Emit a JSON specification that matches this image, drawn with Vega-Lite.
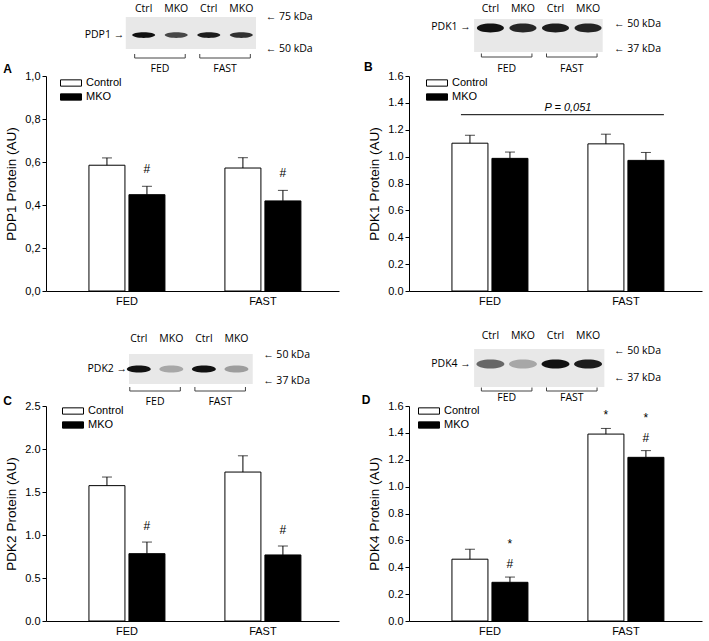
{
  "$schema": "https://vega.github.io/schema/vega-lite/v6.json",
  "background": "white",
  "padding": {"left": 3, "top": 2, "right": 2, "bottom": 2},
  "bounds": "flush",
  "columns": 2,
  "spacing": {"row": 4, "column": 70},
  "concat": [
    {
      "width": 293, "height": 70,
      "data": {"values": [
        {"lane": 1, "label": "Ctrl", "cond": "FED", "density": 1.0},
        {"lane": 2, "label": "MKO", "cond": "FED", "density": 0.75},
        {"lane": 3, "label": "Ctrl", "cond": "FAST", "density": 0.95},
        {"lane": 4, "label": "MKO", "cond": "FAST", "density": 0.85}
      ]},
      "layer": [
        {"data": {"values": [{}]}, "mark": {"type": "rect", "color": "#e8e8e8"},
         "encoding": {"x": {"datum": 0.45, "type": "quantitative", "scale": {"domain": [-2, 7], "nice": false, "zero": false}, "axis": null},
                      "x2": {"datum": 4.45},
                      "y": {"datum": 2.3, "type": "quantitative", "scale": {"domain": [0, 7], "nice": false, "zero": false}, "axis": null},
                      "y2": {"datum": 5.5}}},
        {"mark": {"type": "point", "filled": true, "color": "#111", "shape": "M-1,0A1,0.25,0,1,1,1,0A1,0.25,0,1,1,-1,0Z", "size": 529, "strokeWidth": 0},
         "encoding": {"x": {"field": "lane", "type": "quantitative"}, "y": {"datum": 3.7, "type": "quantitative"},
                      "opacity": {"field": "density", "type": "quantitative", "scale": {"domain": [0, 1], "range": [0, 1]}, "legend": null}}},
        {"mark": {"type": "text", "font": "Open Sans", "fontSize": 10.5, "baseline": "middle"},
         "encoding": {"x": {"field": "lane", "type": "quantitative"}, "y": {"datum": 6.3, "type": "quantitative"}, "text": {"field": "label"}}},
        {"mark": {"type": "rule", "color": "#444", "xOffset": -9, "x2Offset": 9},
         "encoding": {"x": {"aggregate": "min", "field": "lane", "type": "quantitative"}, "x2": {"aggregate": "max", "field": "lane"}, "y": {"datum": 1.4, "type": "quantitative"}, "detail": {"field": "cond", "type": "nominal"}}},
        {"mark": {"type": "rule", "color": "#444", "xOffset": -9},
         "encoding": {"x": {"aggregate": "min", "field": "lane", "type": "quantitative"}, "y": {"datum": 1.4, "type": "quantitative"}, "y2": {"datum": 1.8}, "detail": {"field": "cond", "type": "nominal"}}},
        {"mark": {"type": "rule", "color": "#444", "xOffset": 9},
         "encoding": {"x": {"aggregate": "max", "field": "lane", "type": "quantitative"}, "y": {"datum": 1.4, "type": "quantitative"}, "y2": {"datum": 1.8}, "detail": {"field": "cond", "type": "nominal"}}},
        {"mark": {"type": "text", "font": "Open Sans", "fontSize": 10.5, "baseline": "middle"},
         "encoding": {"x": {"aggregate": "mean", "field": "lane", "type": "quantitative"}, "y": {"datum": 0.3, "type": "quantitative"}, "text": {"field": "cond"}}},
        {"data": {"values": [{}]}, "mark": {"type": "text", "font": "Open Sans", "fontSize": 10.5, "align": "right", "baseline": "middle"},
         "encoding": {"x": {"datum": 0.4, "type": "quantitative"}, "y": {"datum": 3.7, "type": "quantitative"}, "text": {"value": "PDP1  →"}}},
        {"data": {"values": [{}]}, "mark": {"type": "text", "font": "Open Sans", "fontSize": 10.5, "align": "left", "baseline": "middle"},
         "encoding": {"x": {"datum": 4.75, "type": "quantitative"}, "y": {"datum": 5.5, "type": "quantitative"}, "text": {"value": "←  75 kDa"}}},
        {"data": {"values": [{}]}, "mark": {"type": "text", "font": "Open Sans", "fontSize": 10.5, "align": "left", "baseline": "middle"},
         "encoding": {"x": {"datum": 4.75, "type": "quantitative"}, "y": {"datum": 2.3, "type": "quantitative"}, "text": {"value": "←  50 kDa"}}},
        {"data": {"values": [{}]}, "mark": {"type": "text", "font": "Liberation Sans", "fontSize": 12, "fontWeight": "bold", "align": "center", "baseline": "middle"},
         "encoding": {"x": {"datum": -3.18, "type": "quantitative"}, "y": {"datum": 0.3, "type": "quantitative"}, "text": {"value": "A"}}}
      ]
    },
    {
      "width": 293, "height": 70,
      "data": {"values": [
        {"lane": 1, "label": "Ctrl", "cond": "FED", "density": 1.0},
        {"lane": 2, "label": "MKO", "cond": "FED", "density": 0.9},
        {"lane": 3, "label": "Ctrl", "cond": "FAST", "density": 0.95},
        {"lane": 4, "label": "MKO", "cond": "FAST", "density": 0.92}
      ]},
      "layer": [
        {"data": {"values": [{}]}, "mark": {"type": "rect", "color": "#e8e8e8"},
         "encoding": {"x": {"datum": 0.5, "type": "quantitative", "scale": {"domain": [-1.5, 7.5], "nice": false, "zero": false}, "axis": null},
                      "x2": {"datum": 4.45},
                      "y": {"datum": 2.0, "type": "quantitative", "scale": {"domain": [0, 7], "nice": false, "zero": false}, "axis": null},
                      "y2": {"datum": 5.3}}},
        {"mark": {"type": "point", "filled": true, "color": "#111", "shape": "M-1,0A1,0.33,0,1,1,1,0A1,0.33,0,1,1,-1,0Z", "size": 729, "strokeWidth": 0},
         "encoding": {"x": {"field": "lane", "type": "quantitative"}, "y": {"datum": 4.4, "type": "quantitative"},
                      "opacity": {"field": "density", "type": "quantitative", "scale": {"domain": [0, 1], "range": [0, 1]}, "legend": null}}},
        {"mark": {"type": "text", "font": "Open Sans", "fontSize": 10.5, "baseline": "middle"},
         "encoding": {"x": {"field": "lane", "type": "quantitative"}, "y": {"datum": 6.3, "type": "quantitative"}, "text": {"field": "label"}}},
        {"mark": {"type": "rule", "color": "#444", "xOffset": -9, "x2Offset": 9},
         "encoding": {"x": {"aggregate": "min", "field": "lane", "type": "quantitative"}, "x2": {"aggregate": "max", "field": "lane"}, "y": {"datum": 1.5, "type": "quantitative"}, "detail": {"field": "cond", "type": "nominal"}}},
        {"mark": {"type": "rule", "color": "#444", "xOffset": -9},
         "encoding": {"x": {"aggregate": "min", "field": "lane", "type": "quantitative"}, "y": {"datum": 1.5, "type": "quantitative"}, "y2": {"datum": 1.85}, "detail": {"field": "cond", "type": "nominal"}}},
        {"mark": {"type": "rule", "color": "#444", "xOffset": 9},
         "encoding": {"x": {"aggregate": "max", "field": "lane", "type": "quantitative"}, "y": {"datum": 1.5, "type": "quantitative"}, "y2": {"datum": 1.85}, "detail": {"field": "cond", "type": "nominal"}}},
        {"mark": {"type": "text", "font": "Open Sans", "fontSize": 10.5, "baseline": "middle"},
         "encoding": {"x": {"aggregate": "mean", "field": "lane", "type": "quantitative"}, "y": {"datum": 0.35, "type": "quantitative"}, "text": {"field": "cond"}}},
        {"data": {"values": [{}]}, "mark": {"type": "text", "font": "Open Sans", "fontSize": 10.5, "align": "right", "baseline": "middle"},
         "encoding": {"x": {"datum": 0.4, "type": "quantitative"}, "y": {"datum": 4.5, "type": "quantitative"}, "text": {"value": "PDK1  →"}}},
        {"data": {"values": [{}]}, "mark": {"type": "text", "font": "Open Sans", "fontSize": 10.5, "align": "left", "baseline": "middle"},
         "encoding": {"x": {"datum": 4.8, "type": "quantitative"}, "y": {"datum": 4.8, "type": "quantitative"}, "text": {"value": "←  50 kDa"}}},
        {"data": {"values": [{}]}, "mark": {"type": "text", "font": "Open Sans", "fontSize": 10.5, "align": "left", "baseline": "middle"},
         "encoding": {"x": {"datum": 4.8, "type": "quantitative"}, "y": {"datum": 2.3, "type": "quantitative"}, "text": {"value": "←  37 kDa"}}},
        {"data": {"values": [{}]}, "mark": {"type": "text", "font": "Liberation Sans", "fontSize": 12, "fontWeight": "bold", "align": "center", "baseline": "middle"},
         "encoding": {"x": {"datum": -2.75, "type": "quantitative"}, "y": {"datum": 0.5, "type": "quantitative"}, "text": {"value": "B"}}}
      ]
    },
    {
      "width": 293, "height": 215,
      "data": {"values": [
        {"cond": "FED", "geno": "Control", "mean": 0.585, "hi": 0.619, "lower": ""},
        {"cond": "FED", "geno": "MKO", "mean": 0.448, "hi": 0.487, "lower": "#"},
        {"cond": "FAST", "geno": "Control", "mean": 0.572, "hi": 0.62, "lower": ""},
        {"cond": "FAST", "geno": "MKO", "mean": 0.419, "hi": 0.468, "lower": "#"}
      ]},
      "layer": [
        {"mark": {"type": "bar", "stroke": "black", "strokeWidth": 1},
         "encoding": {
           "x": {"field": "cond", "type": "nominal", "scale": {"domain": ["FED", "FAST"], "paddingInner": 0.441, "paddingOuter": 0.298, "align": 0.53}, "axis": {"title": null, "labelAngle": 0, "ticks": false, "labelPadding": 4, "labelFontSize": 11}},
           "xOffset": {"field": "geno", "type": "nominal", "scale": {"domain": ["Control", "MKO"], "paddingInner": 0.1, "paddingOuter": 0}},
           "y": {"field": "mean", "type": "quantitative", "scale": {"domain": [0, 1], "nice": false}, "axis": {"title": "PDP1 Protein (AU)", "values": [0, 0.2, 0.4, 0.6, 0.8, 1], "labelOverlap": false, "labelExpr": "replace(format(datum.value, '.1f'), '.', ',')", "tickSize": 4, "labelPadding": 2, "titlePadding": 6}},
           "fill": {"field": "geno", "type": "nominal", "scale": {"domain": ["Control", "MKO"], "range": ["white", "black"]}, "legend": {"title": null, "orient": "none", "legendX": 19, "legendY": 1}}}},
        {"mark": {"type": "rule", "color": "black"},
         "encoding": {"x": {"field": "cond", "type": "nominal"}, "xOffset": {"field": "geno", "type": "nominal"}, "y": {"field": "mean", "type": "quantitative"}, "y2": {"field": "hi"}}},
        {"mark": {"type": "tick", "orient": "horizontal", "size": 10, "thickness": 1, "color": "black"},
         "encoding": {"x": {"field": "cond", "type": "nominal"}, "xOffset": {"field": "geno", "type": "nominal"}, "y": {"field": "hi", "type": "quantitative"}}},
        {"mark": {"type": "text", "baseline": "bottom", "dy": -10, "fontSize": 12, "font": "Liberation Sans"},
         "encoding": {"x": {"field": "cond", "type": "nominal"}, "xOffset": {"field": "geno", "type": "nominal"}, "y": {"field": "hi", "type": "quantitative"}, "text": {"field": "lower"}}}
      ]
    },
    {
      "width": 293, "height": 215,
      "data": {"values": [
        {"cond": "FED", "geno": "Control", "mean": 1.100, "hi": 1.159},
        {"cond": "FED", "geno": "MKO", "mean": 0.987, "hi": 1.034},
        {"cond": "FAST", "geno": "Control", "mean": 1.095, "hi": 1.167},
        {"cond": "FAST", "geno": "MKO", "mean": 0.972, "hi": 1.031}
      ]},
      "layer": [
        {"mark": {"type": "bar", "stroke": "black", "strokeWidth": 1},
         "encoding": {
           "x": {"field": "cond", "type": "nominal", "scale": {"domain": ["FED", "FAST"], "paddingInner": 0.441, "paddingOuter": 0.298, "align": 0.53}, "axis": {"title": null, "labelAngle": 0, "ticks": false, "labelPadding": 4, "labelFontSize": 11}},
           "xOffset": {"field": "geno", "type": "nominal", "scale": {"domain": ["Control", "MKO"], "paddingInner": 0.1, "paddingOuter": 0}},
           "y": {"field": "mean", "type": "quantitative", "scale": {"domain": [0, 1.6], "nice": false}, "axis": {"title": "PDK1 Protein (AU)", "values": [0, 0.2, 0.4, 0.6, 0.8, 1, 1.2, 1.4, 1.6], "labelOverlap": false, "tickCount": 9, "format": ".1f", "tickSize": 4, "labelPadding": 2, "titlePadding": 6}},
           "fill": {"field": "geno", "type": "nominal", "scale": {"domain": ["Control", "MKO"], "range": ["white", "black"]}, "legend": {"title": null, "orient": "none", "legendX": 22, "legendY": 1}}}},
        {"mark": {"type": "rule", "color": "black"},
         "encoding": {"x": {"field": "cond", "type": "nominal"}, "xOffset": {"field": "geno", "type": "nominal"}, "y": {"field": "mean", "type": "quantitative"}, "y2": {"field": "hi"}}},
        {"mark": {"type": "tick", "orient": "horizontal", "size": 10, "thickness": 1, "color": "black"},
         "encoding": {"x": {"field": "cond", "type": "nominal"}, "xOffset": {"field": "geno", "type": "nominal"}, "y": {"field": "hi", "type": "quantitative"}}},
        {"data": {"values": [{}]}, "mark": {"type": "rule", "color": "black", "xOffset": -29, "x2Offset": 38},
         "encoding": {"x": {"datum": "FED", "type": "nominal"}, "x2": {"datum": "FAST"}, "y": {"datum": 1.312, "type": "quantitative"}}},
        {"data": {"values": [{}]}, "mark": {"type": "text", "fontStyle": "italic", "fontSize": 11, "font": "Liberation Sans", "dx": 78, "dy": -2, "baseline": "bottom"},
         "encoding": {"x": {"datum": "FED", "type": "nominal"}, "y": {"datum": 1.312, "type": "quantitative"}, "text": {"value": "P = 0,051"}}}
      ]
    },
    {
      "width": 293, "height": 107,
      "data": {"values": [
        {"lane": 1, "label": "Ctrl", "cond": "FED", "density": 1.0},
        {"lane": 2, "label": "MKO", "cond": "FED", "density": 0.3},
        {"lane": 3, "label": "Ctrl", "cond": "FAST", "density": 1.0},
        {"lane": 4, "label": "MKO", "cond": "FAST", "density": 0.35}
      ]},
      "layer": [
        {"data": {"values": [{}]}, "mark": {"type": "rect", "color": "#e8e8e8"},
         "encoding": {"x": {"datum": 0.7, "type": "quantitative", "scale": {"domain": [-1.85, 7.15], "nice": false, "zero": false}, "axis": null},
                      "x2": {"datum": 4.5},
                      "y": {"datum": 1.8, "type": "quantitative", "scale": {"domain": [0, 10.7], "nice": false, "zero": false}, "axis": null},
                      "y2": {"datum": 4.8}}},
        {"mark": {"type": "point", "filled": true, "color": "#111", "shape": "M-1,0A1,0.3,0,1,1,1,0A1,0.3,0,1,1,-1,0Z", "size": 576, "strokeWidth": 0},
         "encoding": {"x": {"field": "lane", "type": "quantitative"}, "y": {"datum": 3.3, "type": "quantitative"},
                      "opacity": {"field": "density", "type": "quantitative", "scale": {"domain": [0, 1], "range": [0, 1]}, "legend": null}}},
        {"mark": {"type": "text", "font": "Open Sans", "fontSize": 10.5, "baseline": "middle"},
         "encoding": {"x": {"field": "lane", "type": "quantitative"}, "y": {"datum": 6.3, "type": "quantitative"}, "text": {"field": "label"}}},
        {"mark": {"type": "rule", "color": "#444", "xOffset": -9, "x2Offset": 9},
         "encoding": {"x": {"aggregate": "min", "field": "lane", "type": "quantitative"}, "x2": {"aggregate": "max", "field": "lane"}, "y": {"datum": 1.1, "type": "quantitative"}, "detail": {"field": "cond", "type": "nominal"}}},
        {"mark": {"type": "rule", "color": "#444", "xOffset": -9},
         "encoding": {"x": {"aggregate": "min", "field": "lane", "type": "quantitative"}, "y": {"datum": 1.1, "type": "quantitative"}, "y2": {"datum": 1.5}, "detail": {"field": "cond", "type": "nominal"}}},
        {"mark": {"type": "rule", "color": "#444", "xOffset": 9},
         "encoding": {"x": {"aggregate": "max", "field": "lane", "type": "quantitative"}, "y": {"datum": 1.1, "type": "quantitative"}, "y2": {"datum": 1.5}, "detail": {"field": "cond", "type": "nominal"}}},
        {"mark": {"type": "text", "font": "Open Sans", "fontSize": 10.5, "baseline": "middle"},
         "encoding": {"x": {"aggregate": "mean", "field": "lane", "type": "quantitative"}, "y": {"datum": 0.05, "type": "quantitative"}, "text": {"field": "cond"}}},
        {"data": {"values": [{}]}, "mark": {"type": "text", "font": "Open Sans", "fontSize": 10.5, "align": "right", "baseline": "middle"},
         "encoding": {"x": {"datum": 0.64, "type": "quantitative"}, "y": {"datum": 3.3, "type": "quantitative"}, "text": {"value": "PDK2  →"}}},
        {"data": {"values": [{}]}, "mark": {"type": "text", "font": "Open Sans", "fontSize": 10.5, "align": "left", "baseline": "middle"},
         "encoding": {"x": {"datum": 4.82, "type": "quantitative"}, "y": {"datum": 4.7, "type": "quantitative"}, "text": {"value": "←  50 kDa"}}},
        {"data": {"values": [{}]}, "mark": {"type": "text", "font": "Open Sans", "fontSize": 10.5, "align": "left", "baseline": "middle"},
         "encoding": {"x": {"datum": 4.82, "type": "quantitative"}, "y": {"datum": 2.1, "type": "quantitative"}, "text": {"value": "←  37 kDa"}}},
        {"data": {"values": [{}]}, "mark": {"type": "text", "font": "Liberation Sans", "fontSize": 12, "fontWeight": "bold", "align": "center", "baseline": "middle"},
         "encoding": {"x": {"datum": -3.03, "type": "quantitative"}, "y": {"datum": 0.1, "type": "quantitative"}, "text": {"value": "C"}}}
      ]
    },
    {
      "width": 293, "height": 107,
      "data": {"values": [
        {"lane": 1, "label": "Ctrl", "cond": "FED", "density": 0.6},
        {"lane": 2, "label": "MKO", "cond": "FED", "density": 0.3},
        {"lane": 3, "label": "Ctrl", "cond": "FAST", "density": 1.0},
        {"lane": 4, "label": "MKO", "cond": "FAST", "density": 0.95}
      ]},
      "layer": [
        {"data": {"values": [{}]}, "mark": {"type": "rect", "color": "#e8e8e8"},
         "encoding": {"x": {"datum": 0.5, "type": "quantitative", "scale": {"domain": [-1.5, 7.5], "nice": false, "zero": false}, "axis": null},
                      "x2": {"datum": 4.5},
                      "y": {"datum": 1.5, "type": "quantitative", "scale": {"domain": [0, 10.7], "nice": false, "zero": false}, "axis": null},
                      "y2": {"datum": 5.3}}},
        {"mark": {"type": "point", "filled": true, "color": "#111", "shape": "M-1,0A1,0.33,0,1,1,1,0A1,0.33,0,1,1,-1,0Z", "size": 784, "strokeWidth": 0},
         "encoding": {"x": {"field": "lane", "type": "quantitative"}, "y": {"datum": 3.8, "type": "quantitative"},
                      "opacity": {"field": "density", "type": "quantitative", "scale": {"domain": [0, 1], "range": [0, 1]}, "legend": null}}},
        {"mark": {"type": "text", "font": "Open Sans", "fontSize": 10.5, "baseline": "middle"},
         "encoding": {"x": {"field": "lane", "type": "quantitative"}, "y": {"datum": 6.6, "type": "quantitative"}, "text": {"field": "label"}}},
        {"mark": {"type": "rule", "color": "#444", "xOffset": -9, "x2Offset": 9},
         "encoding": {"x": {"aggregate": "min", "field": "lane", "type": "quantitative"}, "x2": {"aggregate": "max", "field": "lane"}, "y": {"datum": 1.1, "type": "quantitative"}, "detail": {"field": "cond", "type": "nominal"}}},
        {"mark": {"type": "rule", "color": "#444", "xOffset": -9},
         "encoding": {"x": {"aggregate": "min", "field": "lane", "type": "quantitative"}, "y": {"datum": 1.1, "type": "quantitative"}, "y2": {"datum": 1.45}, "detail": {"field": "cond", "type": "nominal"}}},
        {"mark": {"type": "rule", "color": "#444", "xOffset": 9},
         "encoding": {"x": {"aggregate": "max", "field": "lane", "type": "quantitative"}, "y": {"datum": 1.1, "type": "quantitative"}, "y2": {"datum": 1.45}, "detail": {"field": "cond", "type": "nominal"}}},
        {"mark": {"type": "text", "font": "Open Sans", "fontSize": 10.5, "baseline": "middle"},
         "encoding": {"x": {"aggregate": "mean", "field": "lane", "type": "quantitative"}, "y": {"datum": 0.45, "type": "quantitative"}, "text": {"field": "cond"}}},
        {"data": {"values": [{}]}, "mark": {"type": "text", "font": "Open Sans", "fontSize": 10.5, "align": "right", "baseline": "middle"},
         "encoding": {"x": {"datum": 0.4, "type": "quantitative"}, "y": {"datum": 3.8, "type": "quantitative"}, "text": {"value": "PDK4  →"}}},
        {"data": {"values": [{}]}, "mark": {"type": "text", "font": "Open Sans", "fontSize": 10.5, "align": "left", "baseline": "middle"},
         "encoding": {"x": {"datum": 4.8, "type": "quantitative"}, "y": {"datum": 5.1, "type": "quantitative"}, "text": {"value": "←  50 kDa"}}},
        {"data": {"values": [{}]}, "mark": {"type": "text", "font": "Open Sans", "fontSize": 10.5, "align": "left", "baseline": "middle"},
         "encoding": {"x": {"datum": 4.8, "type": "quantitative"}, "y": {"datum": 2.4, "type": "quantitative"}, "text": {"value": "←  37 kDa"}}},
        {"data": {"values": [{}]}, "mark": {"type": "text", "font": "Liberation Sans", "fontSize": 12, "fontWeight": "bold", "align": "center", "baseline": "middle"},
         "encoding": {"x": {"datum": -2.82, "type": "quantitative"}, "y": {"datum": 0.2, "type": "quantitative"}, "text": {"value": "D"}}}
      ]
    },
    {
      "width": 293, "height": 215,
      "data": {"values": [
        {"cond": "FED", "geno": "Control", "mean": 1.574, "hi": 1.674, "lower": ""},
        {"cond": "FED", "geno": "MKO", "mean": 0.783, "hi": 0.918, "lower": "#"},
        {"cond": "FAST", "geno": "Control", "mean": 1.732, "hi": 1.921, "lower": ""},
        {"cond": "FAST", "geno": "MKO", "mean": 0.768, "hi": 0.872, "lower": "#"}
      ]},
      "layer": [
        {"mark": {"type": "bar", "stroke": "black", "strokeWidth": 1},
         "encoding": {
           "x": {"field": "cond", "type": "nominal", "scale": {"domain": ["FED", "FAST"], "paddingInner": 0.441, "paddingOuter": 0.298, "align": 0.53}, "axis": {"title": null, "labelAngle": 0, "ticks": false, "labelPadding": 4, "labelFontSize": 11}},
           "xOffset": {"field": "geno", "type": "nominal", "scale": {"domain": ["Control", "MKO"], "paddingInner": 0.1, "paddingOuter": 0}},
           "y": {"field": "mean", "type": "quantitative", "scale": {"domain": [0, 2.5], "nice": false}, "axis": {"title": "PDK2 Protein (AU)", "values": [0, 0.5, 1, 1.5, 2, 2.5], "labelOverlap": false, "format": ".1f", "tickSize": 4, "labelPadding": 2, "titlePadding": 6}},
           "fill": {"field": "geno", "type": "nominal", "scale": {"domain": ["Control", "MKO"], "range": ["white", "black"]}, "legend": {"title": null, "orient": "none", "legendX": 21, "legendY": -1}}}},
        {"mark": {"type": "rule", "color": "black"},
         "encoding": {"x": {"field": "cond", "type": "nominal"}, "xOffset": {"field": "geno", "type": "nominal"}, "y": {"field": "mean", "type": "quantitative"}, "y2": {"field": "hi"}}},
        {"mark": {"type": "tick", "orient": "horizontal", "size": 10, "thickness": 1, "color": "black"},
         "encoding": {"x": {"field": "cond", "type": "nominal"}, "xOffset": {"field": "geno", "type": "nominal"}, "y": {"field": "hi", "type": "quantitative"}}},
        {"mark": {"type": "text", "baseline": "bottom", "dy": -9, "fontSize": 12, "font": "Liberation Sans"},
         "encoding": {"x": {"field": "cond", "type": "nominal"}, "xOffset": {"field": "geno", "type": "nominal"}, "y": {"field": "hi", "type": "quantitative"}, "text": {"field": "lower"}}}
      ]
    },
    {
      "width": 293, "height": 215,
      "data": {"values": [
        {"cond": "FED", "geno": "Control", "mean": 0.460, "hi": 0.534, "lower": "", "upper": ""},
        {"cond": "FED", "geno": "MKO", "mean": 0.288, "hi": 0.327, "lower": "#", "upper": "*"},
        {"cond": "FAST", "geno": "Control", "mean": 1.391, "hi": 1.433, "lower": "*", "upper": ""},
        {"cond": "FAST", "geno": "MKO", "mean": 1.218, "hi": 1.268, "lower": "#", "upper": "*"}
      ]},
      "layer": [
        {"mark": {"type": "bar", "stroke": "black", "strokeWidth": 1},
         "encoding": {
           "x": {"field": "cond", "type": "nominal", "scale": {"domain": ["FED", "FAST"], "paddingInner": 0.441, "paddingOuter": 0.298, "align": 0.53}, "axis": {"title": null, "labelAngle": 0, "ticks": false, "labelPadding": 4, "labelFontSize": 11}},
           "xOffset": {"field": "geno", "type": "nominal", "scale": {"domain": ["Control", "MKO"], "paddingInner": 0.1, "paddingOuter": 0}},
           "y": {"field": "mean", "type": "quantitative", "scale": {"domain": [0, 1.6], "nice": false}, "axis": {"title": "PDK4 Protein (AU)", "values": [0, 0.2, 0.4, 0.6, 0.8, 1, 1.2, 1.4, 1.6], "labelOverlap": false, "tickCount": 9, "format": ".1f", "tickSize": 4, "labelPadding": 2, "titlePadding": 6}},
           "fill": {"field": "geno", "type": "nominal", "scale": {"domain": ["Control", "MKO"], "range": ["white", "black"]}, "legend": {"title": null, "orient": "none", "legendX": 14, "legendY": -1}}}},
        {"mark": {"type": "rule", "color": "black"},
         "encoding": {"x": {"field": "cond", "type": "nominal"}, "xOffset": {"field": "geno", "type": "nominal"}, "y": {"field": "mean", "type": "quantitative"}, "y2": {"field": "hi"}}},
        {"mark": {"type": "tick", "orient": "horizontal", "size": 10, "thickness": 1, "color": "black"},
         "encoding": {"x": {"field": "cond", "type": "nominal"}, "xOffset": {"field": "geno", "type": "nominal"}, "y": {"field": "hi", "type": "quantitative"}}},
        {"mark": {"type": "text", "baseline": "bottom", "dy": -6, "fontSize": 12, "font": "Liberation Sans"},
         "encoding": {"x": {"field": "cond", "type": "nominal"}, "xOffset": {"field": "geno", "type": "nominal"}, "y": {"field": "hi", "type": "quantitative"}, "text": {"field": "lower"}}},
        {"mark": {"type": "text", "baseline": "bottom", "dy": -26, "fontSize": 12, "font": "Liberation Sans"},
         "encoding": {"x": {"field": "cond", "type": "nominal"}, "xOffset": {"field": "geno", "type": "nominal"}, "y": {"field": "hi", "type": "quantitative"}, "text": {"field": "upper"}}}
      ]
    }
  ],
  "resolve": {"scale": {"fill": "independent"}},
  "config": {
    "view": {"stroke": null},
    "font": "Liberation Sans",
    "axis": {"domainColor": "#000", "tickColor": "#000", "labelColor": "#000", "titleColor": "#000", "grid": false, "labelOverlap": false, "labelFontSize": 11, "titleFontSize": 13.5, "titleFontWeight": "normal", "domainWidth": 1, "tickWidth": 1, "labelFont": "Liberation Sans", "titleFont": "Liberation Sans"},
    "legend": {"symbolType": "M-2,-0.6H2V0.6H-2Z", "symbolSize": 110, "symbolStrokeColor": "black", "symbolStrokeWidth": 1, "labelFontSize": 11, "labelFont": "Liberation Sans", "labelColor": "black", "rowPadding": 2, "labelOffset": 9, "padding": 0}
  }
}
